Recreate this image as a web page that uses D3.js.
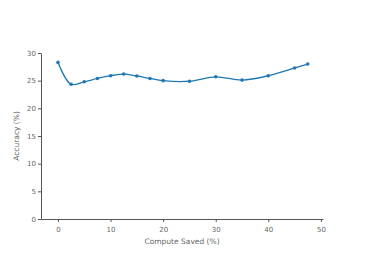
<!DOCTYPE html>
<html>
<head>
<meta charset="utf-8">
<script src="https://cdn.jsdelivr.net/npm/d3@7"></script>
<style>
  body { margin: 0; background: #fff; }
  .axis text { font-family: "DejaVu Sans", Verdana, sans-serif; font-size: 7px; fill: #666; }
  .axis path, .axis line { stroke: #555; }
</style>
</head>
<body>
<div id="chart"></div>
<script>
// data
var computeSaved = [0, 2.5, 5, 7.5, 10, 12.5, 15, 17.5, 20, 25, 30, 35, 40, 45, 47.5];
var accuracy = [28.3, 24.35, 24.8, 25.4, 25.9, 26.2, 25.85, 25.4, 25.0, 24.9, 25.7, 25.1, 25.9, 27.3, 28.0];
var xTicks = [0, 10, 20, 30, 40, 50];
var yTicks = [0, 5, 10, 15, 20, 25, 30];

var svg = d3.select("#chart")
  .append("svg")
  .attr("width", 366)
  .attr("height", 261);

var x = d3.scaleLinear()
  .domain([-3.23, 50.4])
  .range([41, 323]);

var y = d3.scaleLinear()
  .domain([0, 30])
  .range([219, 53]);

// X axis
svg.append("g")
  .attr("class", "axis")
  .attr("transform", "translate(0,219)")
  .call(d3.axisBottom(x).tickValues(xTicks).tickSize(3).tickSizeOuter(0).tickPadding(5));

// Y axis
svg.append("g")
  .attr("class", "axis")
  .attr("transform", "translate(41,0)")
  .call(d3.axisLeft(y).tickValues(yTicks).tickSize(3).tickSizeOuter(0).tickPadding(2));

// axis titles
svg.append("text")
  .attr("x", 182)
  .attr("y", 244)
  .attr("text-anchor", "middle")
  .style("font-family", "DejaVu Sans, Verdana, sans-serif")
  .style("font-size", "7.5px")
  .style("fill", "#666")
  .text("Compute Saved (%)");

svg.append("text")
  .attr("transform", "translate(19,136) rotate(-90)")
  .attr("text-anchor", "middle")
  .style("font-family", "DejaVu Sans, Verdana, sans-serif")
  .style("font-size", "7.5px")
  .style("fill", "#666")
  .text("Accuracy (%)");

var data = computeSaved.map(function(d, i) { return {x: d, y: accuracy[i]}; });

var line = d3.line()
  .x(function(d) { return x(d.x); })
  .y(function(d) { return y(d.y); })
  .curve(d3.curveCatmullRom.alpha(0.5));

svg.append("path")
  .datum(data)
  .attr("fill", "none")
  .attr("stroke", "#1f77b4")
  .attr("stroke-width", 1.3)
  .attr("d", line);

svg.selectAll("circle")
  .data(data)
  .enter()
  .append("circle")
  .attr("cx", function(d) { return x(d.x); })
  .attr("cy", function(d) { return y(d.y); })
  .attr("r", 1.8)
  .attr("fill", "#1f77b4");
</script>
</body>
</html>
